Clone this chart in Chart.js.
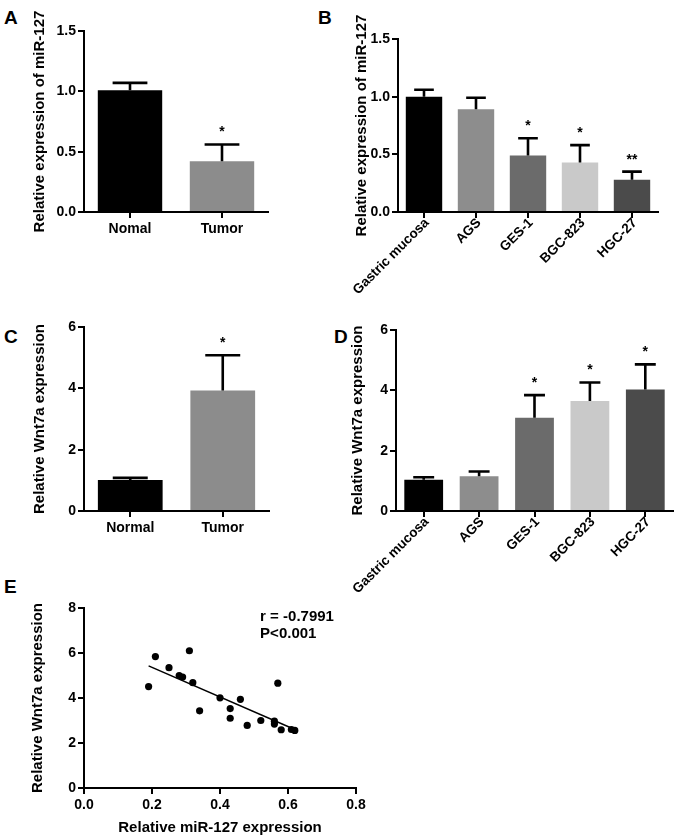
<!DOCTYPE html>
<html>
<head>
<meta charset="utf-8">
<script src="https://cdn.jsdelivr.net/npm/chart.js@4.4.1/dist/chart.umd.min.js"></script>
<style>
  body { margin: 0; background: #fff; width: 677px; height: 840px; position: relative; overflow: hidden;
         font-family: 'Liberation Sans', Arial, sans-serif; }
  canvas { position: absolute; }
  .tag { position: absolute; font-weight: bold; font-size: 19px; line-height: 1; color: #000; }
</style>
</head>
<body>
<div class="tag" style="left:4px;top:8px">A</div>
<div class="tag" style="left:318px;top:8px">B</div>
<div class="tag" style="left:4px;top:327px">C</div>
<div class="tag" style="left:334px;top:327px">D</div>
<div class="tag" style="left:4px;top:577px">E</div>

<canvas id="chartA" width="280" height="250" style="left:0;top:0"></canvas>
<canvas id="chartB" width="347" height="310" style="left:330px;top:0"></canvas>
<canvas id="chartC" width="280" height="230" style="left:0;top:310px"></canvas>
<canvas id="chartD" width="347" height="300" style="left:330px;top:310px"></canvas>
<canvas id="chartE" width="380" height="280" style="left:0;top:560px"></canvas>

<script>
// --- data ---
const tissueMirLabels = ['Nomal', 'Tumor'];
const tissueMirMeans = [1.01, 0.42];
const tissueMirErr = [1.07, 0.56];
const tissueMirSig = ['', '*'];

const cellLabels = ['Gastric mucosa', 'AGS', 'GES-1', 'BGC-823', 'HGC-27'];
const cellMirMeans = [1.0, 0.89, 0.49, 0.43, 0.28];
const cellMirErr = [1.06, 0.99, 0.64, 0.58, 0.35];
const cellMirSig = ['', '', '*', '*', '**'];

const tissueWntLabels = ['Normal', 'Tumor'];
const tissueWntMeans = [1.01, 3.93];
const tissueWntErr = [1.08, 5.08];
const tissueWntSig = ['', '*'];

const cellWntMeans = [1.04, 1.15, 3.09, 3.65, 4.03];
const cellWntErr = [1.12, 1.31, 3.84, 4.26, 4.86];
const cellWntSig = ['', '', '*', '*', '*'];

const scatterMir = [0.19, 0.21, 0.25, 0.28, 0.29, 0.31, 0.32, 0.34, 0.40, 0.43, 0.43, 0.46, 0.48, 0.52, 0.56, 0.56, 0.57, 0.58, 0.61, 0.62];
const scatterWnt = [4.51, 5.84, 5.35, 5.0, 4.93, 6.1, 4.68, 3.43, 4.01, 3.53, 3.1, 3.94, 2.78, 3.0, 2.97, 2.84, 4.66, 2.59, 2.6, 2.56];
const fitMir = [0.19, 0.62];
const fitWnt = [5.43, 2.6];
const corrText = ['r = -0.7991', 'P<0.001'];

const tissueColors = ['#000000', '#8c8c8c'];
const cellColors = ['#000000', '#8d8d8d', '#6b6b6b', '#c9c9c9', '#4b4b4b'];

const FONT = "'Liberation Sans', Arial, sans-serif";
Chart.defaults.font.family = FONT;
Chart.defaults.color = '#000';
Chart.defaults.animation = false;

// upper-only error bars with caps, plus significance marks
const errorBarPlugin = {
  id: 'errorBars',
  afterDatasetsDraw(chart, _args, opts) {
    const { ctx } = chart;
    const y = chart.scales.y;
    const meta = chart.getDatasetMeta(0);
    ctx.save();
    ctx.strokeStyle = '#000';
    ctx.fillStyle = '#000';
    ctx.lineWidth = 2.6;
    meta.data.forEach((bar, i) => {
      const top = y.getPixelForValue(opts.err[i]);
      const half = bar.width * 0.27;
      ctx.beginPath();
      ctx.moveTo(bar.x, bar.y);
      ctx.lineTo(bar.x, top);
      ctx.moveTo(bar.x - half, top);
      ctx.lineTo(bar.x + half, top);
      ctx.stroke();
      if (opts.sig[i]) {
        ctx.font = 'bold 14px ' + FONT;
        ctx.textAlign = 'center';
        ctx.textBaseline = 'alphabetic';
        ctx.fillText(opts.sig[i], bar.x, top - 8);
      }
    });
    ctx.restore();
  },
};

function yAxis(max, step, digits, title, width, titlePad) {
  return {
    min: 0,
    max,
    ticks: { stepSize: step, padding: 2, font: { size: 14, weight: 'bold' }, callback: (v) => v.toFixed(digits) },
    grid: { drawOnChartArea: false, color: '#000', tickLength: 6, lineWidth: 2 },
    border: { color: '#000', width: 2 },
    title: { display: true, text: title, font: { size: 15, weight: 'bold' }, padding: { top: titlePad, bottom: 0 } },
    afterFit(scale) { scale.width = width; },
  };
}

function catAxis(height, rotate, size) {
  return {
    offset: true,
    ticks: {
      autoSkip: false, minRotation: rotate, maxRotation: rotate,
      padding: rotate ? -3 : 3, labelOffset: rotate ? 3 : 0,
      font: { size, weight: 'bold' },
    },
    grid: { drawOnChartArea: false, offset: false, color: '#000', tickLength: 6, lineWidth: 2 },
    border: { color: '#000', width: 2 },
    afterFit(scale) { scale.height = height; },
  };
}

function barChart(id, cfg) {
  return new Chart(document.getElementById(id), {
    type: 'bar',
    data: {
      labels: cfg.labels,
      datasets: [{
        data: cfg.means,
        backgroundColor: cfg.colors,
        borderWidth: 0,
        categoryPercentage: 1,
        barPercentage: 0.7,
      }],
    },
    options: {
      responsive: false,
      devicePixelRatio: 1,
      layout: { padding: cfg.padding },
      plugins: {
        legend: { display: false },
        tooltip: { enabled: false },
        errorBars: { err: cfg.err, sig: cfg.sig },
      },
      scales: { x: cfg.x, y: cfg.y },
    },
    plugins: [errorBarPlugin],
  });
}

barChart('chartA', {
  labels: tissueMirLabels, means: tissueMirMeans, err: tissueMirErr, sig: tissueMirSig, colors: tissueColors,
  padding: { top: 31, right: 12, left: 0, bottom: 0 },
  x: catAxis(38, 0, 14),
  y: yAxis(1.5, 0.5, 1, 'Relative expression of miR-127', 84, 31),
});

barChart('chartB', {
  labels: cellLabels, means: cellMirMeans, err: cellMirErr, sig: cellMirSig, colors: cellColors,
  padding: { top: 39, right: 19, left: 0, bottom: 0 },
  x: catAxis(98, 45, 13.5),
  y: yAxis(1.5, 0.5, 1, 'Relative expression of miR-127', 68, 23),
});

barChart('chartC', {
  labels: tissueWntLabels, means: tissueWntMeans, err: tissueWntErr, sig: tissueWntSig, colors: tissueColors,
  padding: { top: 17, right: 11, left: 0, bottom: 0 },
  x: catAxis(29, 0, 14),
  y: yAxis(6, 2, 0, 'Relative Wnt7a expression', 84, 31),
});

barChart('chartD', {
  labels: cellLabels, means: cellWntMeans, err: cellWntErr, sig: cellWntSig, colors: cellColors,
  padding: { top: 20, right: 4, left: 0, bottom: 0 },
  x: catAxis(99, 45, 13.5),
  y: yAxis(6, 2, 0, 'Relative Wnt7a expression', 66, 19),
});

// correlation text, anchored in data space
const corrTextPlugin = {
  id: 'corrText',
  afterDraw(chart, _args, opts) {
    const { ctx, scales: { x, y } } = chart;
    ctx.save();
    ctx.font = 'bold 15px ' + FONT;
    ctx.fillStyle = '#000';
    ctx.textAlign = 'left';
    ctx.textBaseline = 'middle';
    opts.lines.forEach((t, i) => {
      ctx.fillText(t, x.getPixelForValue(opts.x), y.getPixelForValue(opts.y[i]));
    });
    ctx.restore();
  },
};

new Chart(document.getElementById('chartE'), {
  type: 'scatter',
  data: {
    datasets: [
      {
        data: scatterMir.map((v, i) => ({ x: v, y: scatterWnt[i] })),
        backgroundColor: '#000',
        borderWidth: 0,
        pointRadius: 3.6,
      },
      {
        type: 'line',
        data: fitMir.map((v, i) => ({ x: v, y: fitWnt[i] })),
        borderColor: '#000',
        borderWidth: 1.5,
        pointRadius: 0,
        fill: false,
      },
    ],
  },
  options: {
    responsive: false,
    devicePixelRatio: 1,
    layout: { padding: { top: 48, right: 24, left: 0, bottom: 0 } },
    plugins: {
      legend: { display: false },
      tooltip: { enabled: false },
      corrText: { lines: corrText, x: 0.518, y: [7.6, 6.85] },
    },
    scales: {
      x: {
        type: 'linear',
        min: 0,
        max: 0.8,
        ticks: { stepSize: 0.2, padding: 3, font: { size: 14, weight: 'bold' }, callback: (v) => v.toFixed(1) },
        grid: { drawOnChartArea: false, color: '#000', tickLength: 6, lineWidth: 2 },
        border: { color: '#000', width: 2 },
        title: { display: true, text: 'Relative miR-127 expression', font: { size: 15, weight: 'bold' }, padding: { top: 0, bottom: 3 } },
        afterFit(scale) { scale.height = 52; },
      },
      y: yAxis(8, 2, 0, 'Relative Wnt7a expression', 84, 29),
    },
  },
  plugins: [corrTextPlugin],
});
</script>
</body>
</html>
